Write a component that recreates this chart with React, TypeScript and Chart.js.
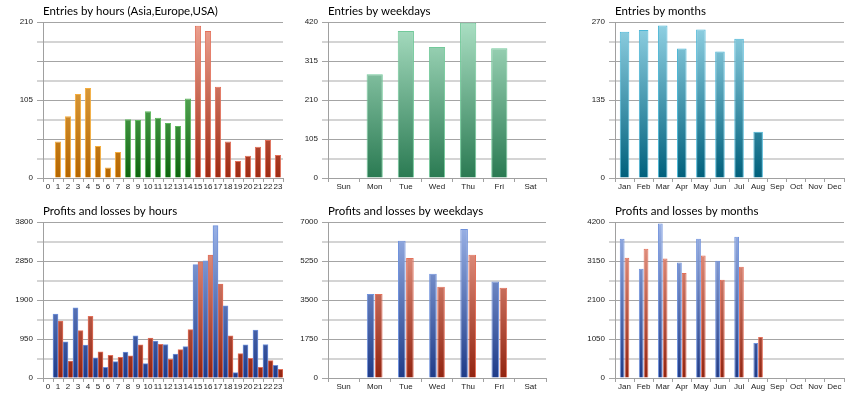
import { useEffect, useRef } from 'react';
import { Chart, registerables } from 'chart.js';

Chart.register(...registerables);

// ---------- data ----------
const hourLabels = ['0','1','2','3','4','5','6','7','8','9','10','11','12','13','14','15','16','17','18','19','20','21','22','23'];
const hourSessions = ['asia','asia','asia','asia','asia','asia','asia','asia','europe','europe','europe','europe','europe','europe','europe','usa','usa','usa','usa','usa','usa','usa','usa','usa'];
const entriesByHour = [0, 49, 83, 113, 121, 43, 14, 35, 79, 78, 90, 81, 74, 70, 107, 205, 198, 123, 49, 23, 30, 42, 51, 31];
const profitsByHour = [0, 1560, 880, 1710, 800, 490, 260, 400, 630, 1025, 350, 900, 815, 585, 765, 2760, 2855, 3710, 1760, 130, 805, 1170, 815, 310];
const lossesByHour = [0, 1385, 415, 1155, 1505, 635, 555, 505, 540, 805, 970, 820, 455, 690, 1180, 2830, 2995, 2285, 1025, 595, 480, 260, 425, 210];

const weekdayLabels = ['Sun', 'Mon', 'Tue', 'Wed', 'Thu', 'Fri', 'Sat'];
const entriesByWeekday = [0, 279, 396, 353, 418, 349, 0];
const profitsByWeekday = [0, 3770, 6160, 4680, 6690, 4330, 0];
const lossesByWeekday = [0, 3770, 5380, 4090, 5530, 4050, 0];

const monthLabels = ['Jan', 'Feb', 'Mar', 'Apr', 'May', 'Jun', 'Jul', 'Aug', 'Sep', 'Oct', 'Nov', 'Dec'];
const entriesByMonth = [253, 256, 264, 224, 257, 219, 241, 80, 0, 0, 0, 0];
const profitsByMonth = [3750, 2940, 4160, 3110, 3750, 3160, 3800, 945, 0, 0, 0, 0];
const lossesByMonth = [3240, 3480, 3220, 2830, 3300, 2645, 2995, 1105, 0, 0, 0, 0];

const axisMaxima = { entriesHour: 210, plHour: 3800, entriesWeekday: 420, plWeekday: 7000, entriesMonth: 270, plMonth: 4200 };

// ---------- styles ----------
const palette: Record<string, { top: string; bottom: string; border: string }> = {
  asia: { top: '#f1bc61', bottom: '#b56600', border: '#f6ad3c' },
  europe: { top: '#8fda8f', bottom: '#0e640e', border: '#5cb85c' },
  usa: { top: '#eea392', bottom: '#9e2a12', border: '#e3705a' },
  weekday: { top: '#aadfc3', bottom: '#2a7a52', border: '#72c99a' },
  month: { top: '#92d2e4', bottom: '#00607c', border: '#4bb6d6' },
  profit: { top: '#9cb4e8', bottom: '#1f3b88', border: '#7092dc' },
  loss: { top: '#eea392', bottom: '#922410', border: '#e3705a' },
};

const tickFont = { family: 'Liberation Sans, Arial, sans-serif', size: 8 };
const titleFont = { family: 'Lato, sans-serif', size: 11.5, weight: 'normal' as const };

function gradientFor(name: string) {
  const p = palette[name];
  return (ctx: any) => {
    const chart = ctx.chart;
    const a = chart.chartArea;
    if (!a) return p.bottom;
    const g = chart.ctx.createLinearGradient(0, a.bottom, 0, a.top);
    g.addColorStop(0, p.bottom);
    g.addColorStop(1, p.top);
    return g;
  };
}

function makeOptions(title: string, max: number, yWidth: number, rightPad: number) {
  return {
    responsive: false,
    animation: false as const,
    events: [],
    layout: { padding: { left: 0, right: rightPad, top: 0, bottom: 0 } },
    plugins: {
      legend: { display: false },
      tooltip: { enabled: false },
      title: {
        display: true,
        text: title,
        align: 'start' as const,
        fullSize: false,
        color: '#000',
        font: titleFont,
        padding: { top: 4, bottom: 4.2 },
      },
    },
    scales: {
      x: {
        offset: true,
        grid: { offset: true, drawOnChartArea: false, tickLength: 4, color: '#a0a0a0' },
        border: { color: '#a0a0a0' },
        ticks: { autoSkip: false, maxRotation: 0, minRotation: 0, padding: 0, font: tickFont, color: '#1a1a1a' },
        afterFit: (s: any) => { s.height = 22; },
      },
      y: {
        min: 0,
        max,
        ticks: {
          stepSize: max / 8,
          padding: 4,
          font: tickFont,
          color: '#1a1a1a',
          callback: (v: any, i: number) => {
            const n = Number(v);
            const r = Math.round(n);
            return i % 2 === 0 && Math.abs(n - r) < 1e-6 ? String(r) : '';
          },
        },
        grid: {
          tickLength: 6,
          color: (c: any) => (c.index % 2 === 0 ? '#a4a4a4' : '#d4d4d4'),
          lineWidth: (c: any) => (c.index % 2 === 0 ? 1 : 2),
        },
        border: { color: '#a0a0a0' },
        afterFit: (s: any) => { s.width = yWidth; },
      },
    },
  };
}

function barSet(data: number[], name: string, extra: any = {}) {
  return {
    data,
    backgroundColor: gradientFor(name),
    borderColor: palette[name].border,
    borderWidth: 1,
    ...extra,
  };
}

type Panel = { left: number; top: number; width: number; height: number; config: () => any };

const col = [
  { left: 0, width: 287, yWidth: 43, rightPad: 4 },
  { left: 287, width: 287, yWidth: 41, rightPad: 28 },
  { left: 574, width: 286, yWidth: 41, rightPad: 16 },
];

const panels: Panel[] = [
  {
    left: col[0].left, top: 0, width: col[0].width, height: 200,
    config: () => ({
      type: 'bar',
      data: {
        labels: hourLabels,
        datasets: [{
          data: entriesByHour,
          backgroundColor: (c: any) => gradientFor(hourSessions[c.dataIndex] || 'asia')(c),
          borderColor: (c: any) => palette[hourSessions[c.dataIndex] || 'asia'].border,
          borderWidth: 1,
          categoryPercentage: 1,
          barPercentage: 0.62,
        }],
      },
      options: makeOptions('Entries by hours (Asia,Europe,USA)', axisMaxima.entriesHour, col[0].yWidth, col[0].rightPad),
    }),
  },
  {
    left: col[1].left, top: 0, width: col[1].width, height: 200,
    config: () => ({
      type: 'bar',
      data: { labels: weekdayLabels, datasets: [barSet(entriesByWeekday, 'weekday', { categoryPercentage: 0.52, barPercentage: 1 })] },
      options: makeOptions('Entries by weekdays', axisMaxima.entriesWeekday, col[1].yWidth, col[1].rightPad),
    }),
  },
  {
    left: col[2].left, top: 0, width: col[2].width, height: 200,
    config: () => ({
      type: 'bar',
      data: { labels: monthLabels, datasets: [barSet(entriesByMonth, 'month', { categoryPercentage: 0.5, barPercentage: 1 })] },
      options: makeOptions('Entries by months', axisMaxima.entriesMonth, col[2].yWidth, col[2].rightPad),
    }),
  },
  {
    left: col[0].left, top: 200, width: col[0].width, height: 200,
    config: () => ({
      type: 'bar',
      data: {
        labels: hourLabels,
        datasets: [
          barSet(profitsByHour, 'profit', { categoryPercentage: 1, barPercentage: 1 }),
          barSet(lossesByHour, 'loss', { categoryPercentage: 1, barPercentage: 1 }),
        ],
      },
      options: makeOptions('Profits and losses by hours', axisMaxima.plHour, col[0].yWidth, col[0].rightPad),
    }),
  },
  {
    left: col[1].left, top: 200, width: col[1].width, height: 200,
    config: () => ({
      type: 'bar',
      data: {
        labels: weekdayLabels,
        datasets: [
          barSet(profitsByWeekday, 'profit', { categoryPercentage: 0.52, barPercentage: 0.94 }),
          barSet(lossesByWeekday, 'loss', { categoryPercentage: 0.52, barPercentage: 0.94 }),
        ],
      },
      options: makeOptions('Profits and losses by weekdays', axisMaxima.plWeekday, col[1].yWidth, col[1].rightPad),
    }),
  },
  {
    left: col[2].left, top: 200, width: col[2].width, height: 200,
    config: () => ({
      type: 'bar',
      data: {
        labels: monthLabels,
        datasets: [
          barSet(profitsByMonth, 'profit', { categoryPercentage: 0.5, barPercentage: 1 }),
          barSet(lossesByMonth, 'loss', { categoryPercentage: 0.5, barPercentage: 1 }),
        ],
      },
      options: makeOptions('Profits and losses by months', axisMaxima.plMonth, col[2].yWidth, col[2].rightPad),
    }),
  },
];

function ChartPanel({ panel }: { panel: Panel }) {
  const ref = useRef<HTMLCanvasElement | null>(null);
  useEffect(() => {
    if (!ref.current) return;
    const chart = new Chart(ref.current, panel.config());
    return () => chart.destroy();
  }, [panel]);
  return (
    <div style={{ position: 'absolute', left: panel.left, top: panel.top, width: panel.width, height: panel.height }}>
      <canvas ref={ref} width={panel.width} height={panel.height} style={{ display: 'block', width: panel.width, height: panel.height }} />
    </div>
  );
}

export default function App() {
  return (
    <div style={{ position: 'absolute', left: 0, top: 0, width: 860, height: 400, background: '#fff', overflow: 'hidden' }}>
      {panels.map((p, i) => (
        <ChartPanel key={i} panel={p} />
      ))}
    </div>
  );
}
